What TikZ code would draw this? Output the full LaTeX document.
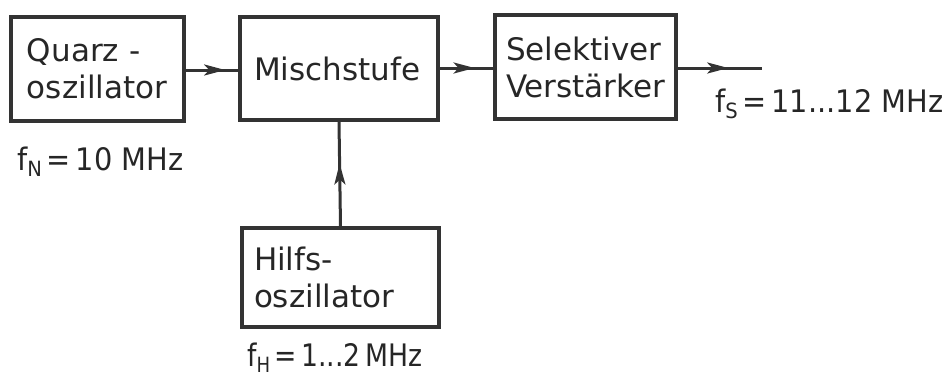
\documentclass[tikz,border=0pt]{standalone}
\usepackage{fontspec}
\setmainfont{DejaVu Sans}
\usetikzlibrary{arrows.meta,decorations.markings}
\newcommand{\lowsub}[1]{\raisebox{-6pt}{\fontsize{21}{21}\selectfont #1}}
\tikzset{
  blk/.style={draw=black!80, line width=3.2pt, inner ysep=0pt, align=left,
    font=\fontsize{31}{37}\selectfont, text=black!85},
  lbl/.style={inner sep=0pt, anchor=base west, font=\fontsize{31}{37}\selectfont, text=black!85},
  conn/.style={draw=black!80, line width=3pt},
  midarrow/.style={postaction={decorate}, decoration={markings,
    mark=at position #1 with {\arrow{Stealth[length=21pt,width=11pt,inset=5pt]}}}}
}
\begin{document}
\begin{tikzpicture}[x=1pt,y=-1pt]
\useasboundingbox (0,0) rectangle (946,376);
\node[blk, inner xsep=16pt, text width=141pt, minimum height=104pt] (q) at (97.5,69) {Quarz -\\oszillator};
\node[blk, inner xsep=14pt, text width=170pt, minimum height=103pt] (m) at (339,68.5) {Mischstufe};
\node[blk, inner xsep=11pt, text width=159pt, minimum height=104pt] (s) at (585.5,67) {Selektiver\\Verstärker};
\node[blk, inner xsep=12pt, text width=173pt, minimum height=99pt] (h) at (340.5,277.5) {Hilfs-\\oszillator};
\coordinate (out) at (762,68);
\node[lbl] (fn) at (17,170) {\scalebox{0.93}[1]{f\lowsub{N}\,=\,10 MHz}};
\node[lbl] (fs) at (715,112) {\scalebox{0.93}[1]{f\lowsub{S}\,=\,11...12 MHz}};
\node[lbl] (fh) at (247,366) {\scalebox{0.86}[1]{f\lowsub{H}\,=\,1...2\,MHz}};
\draw[conn, midarrow=0.75] (q.east |- 0,70) -- (m.west |- 0,70);
\draw[conn, midarrow=0.65] (m.east |- 0,68) -- (s.west |- 0,68);
\draw[conn, midarrow=0.6] (s.east |- out) -- (out);
\draw[conn, midarrow=0.6] (h.north) -- (m.south);
\end{tikzpicture}
\end{document}
